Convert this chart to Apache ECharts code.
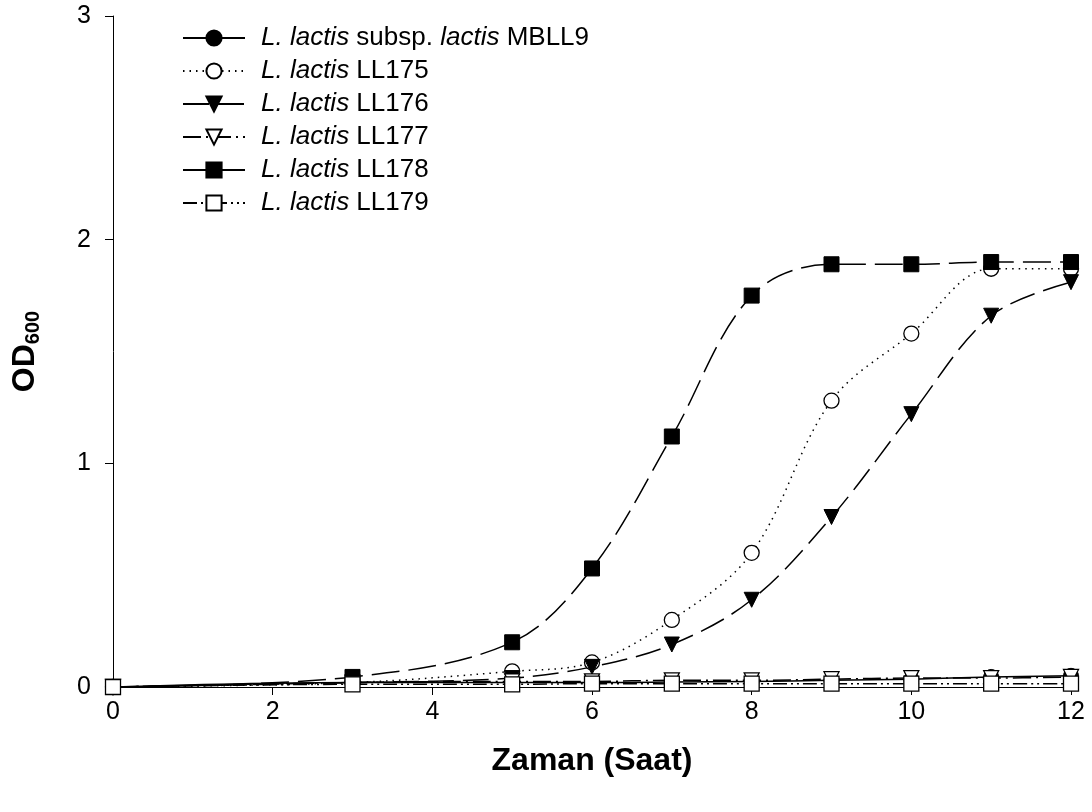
<!DOCTYPE html>
<html>
<head>
<meta charset="utf-8">
<script src="https://cdn.jsdelivr.net/npm/echarts@6/dist/echarts.min.js"></script>
<style>
  html, body { margin: 0; padding: 0; background: #fff; }
  #chart { width: 1092px; height: 812px; }
</style>
</head>
<body>
<div id="chart"></div>
<script>
// time points (Saat)
const hours = [0, 3, 5, 6, 7, 8, 9, 10, 11, 12]

// OD600 readings per strain
const mbll9 = [0, 0.02, 0.02, 0.02, 0.022, 0.025, 0.03, 0.035, 0.045, 0.05]
const ll175 = [0, 0.02, 0.07, 0.11, 0.30, 0.60, 1.28, 1.58, 1.87, 1.87]
const ll176 = [0, 0.02, 0.04, 0.09, 0.19, 0.39, 0.76, 1.22, 1.66, 1.81]
const ll177 = [0, 0.02, 0.025, 0.025, 0.03, 0.03, 0.035, 0.04, 0.04, 0.045]
const ll178 = [0, 0.045, 0.20, 0.53, 1.12, 1.75, 1.89, 1.89, 1.90, 1.90]
const ll179 = [0, 0.012, 0.012, 0.015, 0.015, 0.015, 0.015, 0.015, 0.015, 0.015]

const seriesNames = ['MBLL9', 'LL175', 'LL176', 'LL177', 'LL178', 'LL179']
const legendLabels = [
  '{i|L. lactis} subsp. {i|lactis} MBLL9',
  '{i|L. lactis} LL175',
  '{i|L. lactis} LL176',
  '{i|L. lactis} LL177',
  '{i|L. lactis} LL178',
  '{i|L. lactis} LL179'
]

const xTicks = { min: 0, max: 12, interval: 2 }
const yTicks = { min: 0, max: 3, interval: 1 }

const FONT = 'Liberation Sans, Arial, sans-serif'

const pair = vals => hours.map((h, i) => [h, vals[i]])

const filled = { color: '#000', borderColor: '#000', borderWidth: 1 }
const open = { color: '#fff', borderColor: '#000', borderWidth: 1.3 }

const makeSeries = (name, vals, symbol, rotate, item, dash) => ({
  name,
  type: 'line',
  data: pair(vals),
  smooth: 0.35,
  symbol,
  symbolSize: 15,
  symbolRotate: rotate,
  showAllSymbol: true,
  itemStyle: item,
  lineStyle: { color: '#000', width: 1.5, type: dash },
  emphasis: { disabled: true },
  animation: false
})

const chart = echarts.init(document.getElementById('chart'), null, { renderer: 'canvas' })

const axisText = { color: '#000', fontFamily: FONT, fontSize: 25 }

chart.setOption({
  backgroundColor: '#fff',
  animation: false,
  grid: { left: 113, right: 21, top: 16, bottom: 125, containLabel: false, outerBoundsMode: 'none' },
  legend: {
    orient: 'vertical',
    left: 177,
    top: 18,
    itemWidth: 62,
    itemHeight: 19,
    itemGap: 3,
    data: seriesNames,
    formatter: name => legendLabels[seriesNames.indexOf(name)],
    textStyle: {
      color: '#000',
      fontFamily: FONT,
      fontSize: 26,
      lineHeight: 30,
      padding: [0, 0, 0, 11],
      rich: {
        i: { fontStyle: 'italic', fontSize: 26, lineHeight: 30, color: '#000', fontFamily: FONT }
      }
    }
  },
  xAxis: {
    type: 'value',
    min: xTicks.min,
    max: xTicks.max,
    interval: xTicks.interval,
    name: 'Zaman (Saat)',
    nameLocation: 'middle',
    nameGap: 58,
    nameTextStyle: { color: '#000', fontFamily: FONT, fontSize: 32, fontWeight: 'bold' },
    axisLine: { onZero: false, lineStyle: { color: '#000', width: 1 } },
    axisTick: { show: true, length: 8, lineStyle: { color: '#000' } },
    axisLabel: { ...axisText, margin: 13 },
    splitLine: { show: false }
  },
  yAxis: {
    type: 'value',
    min: yTicks.min,
    max: yTicks.max,
    interval: yTicks.interval,
    name: '{b|OD}{s|600}',
    nameLocation: 'middle',
    nameRotate: 90,
    nameGap: 70,
    nameTextStyle: {
      rich: {
        b: { fontFamily: FONT, fontSize: 32, fontWeight: 'bold', color: '#000', lineHeight: 36 },
        s: { fontFamily: FONT, fontSize: 20, fontWeight: 'bold', color: '#000', lineHeight: 20, padding: [18, 0, 0, 0], verticalAlign: 'bottom' }
      }
    },
    axisLine: { show: true, onZero: false, lineStyle: { color: '#000', width: 1 } },
    axisTick: { show: true, length: 8, lineStyle: { color: '#000' } },
    axisLabel: { ...axisText, margin: 22 },
    splitLine: { show: false }
  },
  series: [
    makeSeries('MBLL9', mbll9, 'circle', 0, filled, 'solid'),
    makeSeries('LL175', ll175, 'circle', 0, open, [1.5, 5]),
    makeSeries('LL176', ll176, 'triangle', 180, filled, [26, 9]),
    makeSeries('LL177', ll177, 'triangle', 180, open, [18, 5, 2, 5]),
    makeSeries('LL178', ll178, 'rect', 0, filled, [28, 9]),
    makeSeries('LL179', ll179, 'rect', 0, open, [14, 4, 2, 4, 2, 4])
  ]
})
</script>
</body>
</html>
